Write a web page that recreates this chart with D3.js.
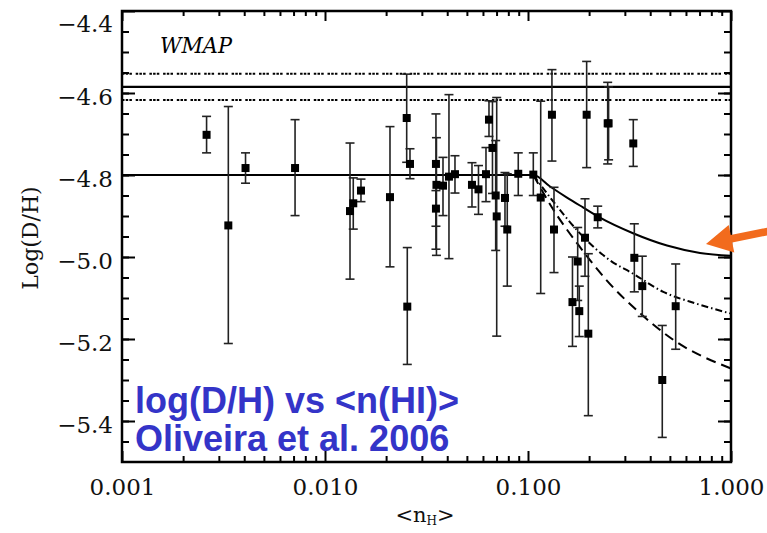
<!DOCTYPE html>
<html>
<head>
<meta charset="utf-8">
<script src="https://cdn.jsdelivr.net/npm/d3@7"></script>
<style>
  body { margin: 0; background: #fff; }
  svg { display: block; }
</style>
</head>
<body>
<div id="chart"></div>
<script>
// Measurements: <n_H>, log(D/H) and the ends of each error bar
const nH = [0.00261, 0.00334, 0.00406, 0.00712, 0.01328, 0.01378, 0.01504, 0.0209, 0.02526, 0.02622,
  0.02543, 0.0352, 0.0354, 0.0352, 0.03813, 0.0408, 0.04368, 0.05297, 0.05702, 0.06209,
  0.06424, 0.06683, 0.06931, 0.07012, 0.07702, 0.07904, 0.08954, 0.1062, 0.1155, 0.1312,
  0.1343, 0.1945, 0.2469, 0.2495, 0.3301, 0.1656, 0.1757, 0.1789, 0.1909, 0.1982,
  0.2205, 0.334, 0.3656, 0.4586, 0.534]
const logDH = [-4.702, -4.923, -4.783, -4.783, -4.888, -4.869, -4.838, -4.854, -4.661, -4.773,
  -5.121, -4.773, -4.824, -4.882, -4.826, -4.804, -4.798, -4.824, -4.835, -4.798,
  -4.665, -4.734, -4.850, -4.901, -4.856, -4.933, -4.797, -4.799, -4.855, -4.653,
  -4.933, -4.653, -4.674, -4.674, -4.723, -5.110, -5.011, -5.132, -4.953, -5.187,
  -4.903, -5.002, -5.071, -5.300, -5.120]
const errUpper = [-4.657, -4.633, -4.746, -4.665, -4.722, -4.807, -4.810, -4.682, -4.554, -4.736,
  -4.977, -4.651, -4.709, -4.838, -4.757, -4.604, -4.753, -4.770, -4.777, -4.733,
  -4.619, -4.621, -4.716, -4.611, -4.794, -4.797, -4.746, -4.746, -4.620, -4.543,
  -4.830, -4.523, -4.574, -4.585, -4.665, -5.000, -4.928, -5.071, -4.858, -4.992,
  -4.876, -4.919, -4.998, -5.167, -5.017]
const errLower = [-4.746, -5.211, -4.820, -4.899, -5.054, -4.932, -4.865, -5.024, -4.769, -4.809,
  -5.262, -4.981, -4.996, -4.925, -4.899, -5.004, -4.844, -4.878, -4.896, -4.865,
  -4.706, -4.845, -4.984, -5.193, -4.925, -5.071, -4.850, -4.850, -5.089, -4.766,
  -5.038, -4.782, -4.773, -4.763, -4.779, -5.218, -5.106, -5.194, -5.047, -5.387,
  -4.929, -5.085, -5.145, -5.440, -5.225]

// Depletion model curves
const solidN = [0.001, 0.1062, 0.1284, 0.1556, 0.1866, 0.2263, 0.3291, 0.4838, 0.7036, 1.0]
const solidDH = [-4.80, -4.80, -4.828, -4.855, -4.879, -4.904, -4.942, -4.972, -4.990, -4.997]
const dashDotN = [0.1062, 0.1358, 0.1873, 0.2534, 0.3302, 0.4639, 0.6776, 1.0]
const dashDotDH = [-4.80, -4.870, -4.951, -5.008, -5.041, -5.085, -5.114, -5.138]
const dashN = [0.1062, 0.1308, 0.1804, 0.2441, 0.3562, 0.5196, 1.0]
const dashDH = [-4.80, -4.878, -4.976, -5.057, -5.137, -5.202, -5.272]

// WMAP value and its range
const wmapMean = -4.585
const wmapRange = [-4.617, -4.553]

// Ticks
const xMajor = [0.001, 0.01, 0.1, 1]
const yMajor = [-5.4, -5.2, -5.0, -4.8, -4.6, -4.4]
const yMinor = d3.range(-5.45, -4.4, 0.05).map(d => +d.toFixed(2))

function draw() {
  const dimensions = {
    width: 767,
    height: 533,
    left: 122,
    right: 731,
    top: 11,
    bottom: 462
  }

  const xScale = d3.scaleLog()
    .domain([0.001, 1])
    .range([dimensions.left, dimensions.right])
  const yScale = d3.scaleLinear()
    .domain([-5.5, -4.4])
    .range([dimensions.bottom, dimensions.top])

  const xMinor = xScale.ticks().filter(d => !xMajor.some(m => Math.abs(m - d) < 1e-9))

  const svg = d3.select('#chart')
    .append('svg')
    .attr('width', dimensions.width)
    .attr('height', dimensions.height)

  const serif = "'DejaVu Serif', serif"

  // Axes, ticks pointing inward
  const axisStyle = g => {
    g.select('.domain').remove()
    g.selectAll('.tick line').attr('stroke', '#000').attr('stroke-width', 2)
    g.selectAll('.tick text').attr('font-family', serif).attr('font-size', 23).attr('fill', '#111')
  }

  svg.append('g')
    .attr('transform', `translate(0, ${dimensions.bottom})`)
    .call(d3.axisBottom(xScale).tickValues(xMajor).tickSize(-11).tickPadding(17).tickFormat(d3.format('.3f')))
    .call(axisStyle)
  svg.append('g')
    .attr('transform', `translate(0, ${dimensions.bottom})`)
    .call(d3.axisBottom(xScale).tickValues(xMinor).tickSize(-6).tickFormat(''))
    .call(axisStyle)
  svg.append('g')
    .attr('transform', `translate(0, ${dimensions.top})`)
    .call(d3.axisTop(xScale).tickValues(xMajor).tickSize(-10).tickFormat(''))
    .call(axisStyle)
  svg.append('g')
    .attr('transform', `translate(0, ${dimensions.top})`)
    .call(d3.axisTop(xScale).tickValues(xMinor).tickSize(-5).tickFormat(''))
    .call(axisStyle)

  const yAxisGroup = svg.append('g')
    .attr('transform', `translate(${dimensions.left}, 0)`)
    .call(d3.axisLeft(yScale).tickValues(yMajor).tickSize(-13).tickPadding(9).tickFormat(d3.format('.1f')))
    .call(axisStyle)
  yAxisGroup.selectAll('.tick text').attr('dy', d => d === -4.4 ? '0.88em' : '0.52em')
  svg.append('g')
    .attr('transform', `translate(${dimensions.left}, 0)`)
    .call(d3.axisLeft(yScale).tickValues(yMinor).tickSize(-7).tickFormat(''))
    .call(axisStyle)
  svg.append('g')
    .attr('transform', `translate(${dimensions.right}, 0)`)
    .call(d3.axisRight(yScale).tickValues(yMajor).tickSize(-13).tickFormat(''))
    .call(axisStyle)
  svg.append('g')
    .attr('transform', `translate(${dimensions.right}, 0)`)
    .call(d3.axisRight(yScale).tickValues(yMinor).tickSize(-7).tickFormat(''))
    .call(axisStyle)

  // Frame
  svg.append('rect')
    .attr('x', dimensions.left)
    .attr('y', dimensions.top)
    .attr('width', dimensions.right - dimensions.left)
    .attr('height', dimensions.bottom - dimensions.top)
    .attr('fill', 'none')
    .attr('stroke', '#000')
    .attr('stroke-width', 2.5)

  // WMAP lines
  svg.append('line')
    .attr('x1', xScale(0.001)).attr('x2', xScale(1))
    .attr('y1', yScale(wmapMean)).attr('y2', yScale(wmapMean))
    .attr('stroke', '#000').attr('stroke-width', 2.2)
  svg.selectAll('.wmap-range')
    .data(wmapRange)
    .join('line')
    .attr('class', 'wmap-range')
    .attr('x1', xScale(0.001)).attr('x2', xScale(1))
    .attr('y1', d => yScale(d)).attr('y2', d => yScale(d))
    .attr('stroke', '#000').attr('stroke-width', 2)
    .attr('stroke-dasharray', '2.5,1.2,2.5,1.2,2.5,3.8')

  svg.append('text')
    .attr('x', 160).attr('y', 53)
    .attr('font-family', serif).attr('font-style', 'italic')
    .attr('font-size', 22)
    .attr('textLength', 72).attr('lengthAdjust', 'spacingAndGlyphs')
    .text('WMAP')

  // Model curves
  const line = d3.line()
    .x(d => xScale(d[0]))
    .y(d => yScale(d[1]))
    .curve(d3.curveMonotoneX)
  const curves = [
    { n: solidN, v: solidDH, dash: null },
    { n: dashDotN, v: dashDotDH, dash: '7,3,1.5,3' },
    { n: dashN, v: dashDH, dash: '10,6' }
  ]
  svg.selectAll('.model')
    .data(curves)
    .join('path')
    .attr('class', 'model')
    .attr('d', c => line(c.n.map((n, i) => [n, c.v[i]])))
    .attr('fill', 'none')
    .attr('stroke', '#000')
    .attr('stroke-width', 2)
    .attr('stroke-dasharray', c => c.dash)

  // Error bars and points
  const dataset = nH.map((n, i) => ({ n, v: logDH[i], hi: errUpper[i], lo: errLower[i] }))
  const bars = svg.append('g')
    .attr('stroke', '#222')
    .attr('stroke-width', 1.6)
  bars.selectAll('.err')
    .data(dataset)
    .join('line')
    .attr('class', 'err')
    .attr('x1', d => xScale(d.n)).attr('x2', d => xScale(d.n))
    .attr('y1', d => yScale(d.hi)).attr('y2', d => yScale(d.lo))
  bars.selectAll('.cap-hi')
    .data(dataset)
    .join('line')
    .attr('class', 'cap-hi')
    .attr('x1', d => xScale(d.n) - 4.5).attr('x2', d => xScale(d.n) + 4.5)
    .attr('y1', d => yScale(d.hi)).attr('y2', d => yScale(d.hi))
  bars.selectAll('.cap-lo')
    .data(dataset)
    .join('line')
    .attr('class', 'cap-lo')
    .attr('x1', d => xScale(d.n) - 4.5).attr('x2', d => xScale(d.n) + 4.5)
    .attr('y1', d => yScale(d.lo)).attr('y2', d => yScale(d.lo))

  svg.selectAll('.pt')
    .data(dataset)
    .join('rect')
    .attr('class', 'pt')
    .attr('x', d => xScale(d.n) - 4)
    .attr('y', d => yScale(d.v) - 4)
    .attr('width', 8)
    .attr('height', 8)
    .attr('fill', '#000')

  // Axis titles
  svg.append('text')
    .attr('transform', 'translate(38, 238) rotate(-90)')
    .attr('text-anchor', 'middle')
    .attr('font-family', serif)
    .attr('font-size', 22)
    .attr('fill', '#111')
    .text('Log(D/H)')

  const xTitle = svg.append('text')
    .attr('x', 425).attr('y', 522)
    .attr('text-anchor', 'middle')
    .attr('font-family', serif)
    .attr('font-size', 21)
    .attr('fill', '#111')
  xTitle.append('tspan').text('<n')
  xTitle.append('tspan').attr('font-size', 12).attr('dy', 3).text('H')
  xTitle.append('tspan').attr('dy', -3).text('>')

  // Blue annotation
  const note = svg.append('g')
    .attr('font-family', "'Liberation Sans', Arial, sans-serif")
    .attr('font-weight', 'bold')
    .attr('font-size', 36)
    .attr('fill', '#3434c8')
  note.append('text').attr('x', 135).attr('y', 413).text('log(D/H) vs <n(HI)>')
  note.append('text').attr('x', 135).attr('y', 451).text('Oliveira et al. 2006')

  // Orange arrow pointing at the solid curve
  const tip = [706, 244], tail = [770, 231]
  const ang = Math.atan2(tail[1] - tip[1], tail[0] - tip[0])
  const ux = Math.cos(ang), uy = Math.sin(ang), px = -uy, py = ux
  const headLen = 26, headHalf = 14, shaftHalf = 3.8
  const b = [tip[0] + ux * headLen, tip[1] + uy * headLen]
  const pts = [
    tip,
    [b[0] + px * headHalf, b[1] + py * headHalf],
    [b[0] + px * shaftHalf, b[1] + py * shaftHalf],
    [tail[0] + px * shaftHalf, tail[1] + py * shaftHalf],
    [tail[0] - px * shaftHalf, tail[1] - py * shaftHalf],
    [b[0] - px * shaftHalf, b[1] - py * shaftHalf],
    [b[0] - px * headHalf, b[1] - py * headHalf]
  ]
  svg.append('polygon')
    .attr('points', pts.map(p => p.join(',')).join(' '))
    .attr('fill', '#f26b1d')
}
draw()
</script>
</body>
</html>
